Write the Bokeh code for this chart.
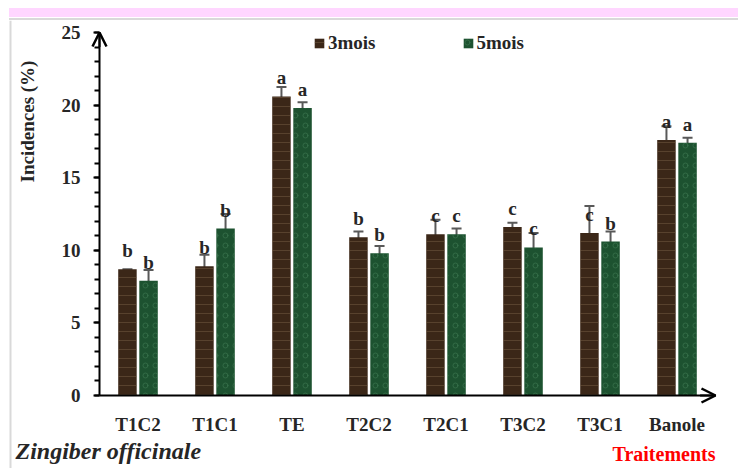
import numpy as np
from bokeh.plotting import figure
from bokeh.models import (ColumnDataSource, Whisker, TeeHead, LabelSet, Label, Arrow, OpenHead,
                          SingleIntervalTicker, FixedTicker, Legend, LegendItem, Div, Range1d, Span)
from bokeh.layouts import column
from bokeh.core.properties import value
from bokeh.embed import file_html
from bokeh.resources import INLINE

# ---- data ----
categories = ["T1C2", "T1C1", "TE", "T2C2", "T2C1", "T3C2", "T3C1", "Banole"]
mois3 = [8.7, 8.9, 20.6, 10.9, 11.1, 11.6, 11.2, 17.6]
mois5 = [7.9, 11.5, 19.8, 9.8, 11.1, 10.2, 10.6, 17.4]
mois3_upper = [8.7, 9.7, 21.25, 11.3, 12.1, 11.9, 13.05, 18.55]
mois3_lower = [7.95, 8.1, 20.1, 9.9, 10.8, 9.75, 10.1, 15.85]
mois5_upper = [8.65, 12.5, 20.2, 10.3, 11.5, 11.2, 11.3, 17.75]
mois5_lower = [7.15, 9.95, 19.4, 9.3, 10.85, 9.35, 9.85, 17.1]
letters3 = ["b", "b", "a", "b", "c", "c", "c", "a"]
letters5 = ["b", "b", "a", "b", "c", "c", "b", "a"]
series_names = ["3mois", "5mois"]
y_tick_interval = 5
y_max = 25

FONT = "Liberation Serif"
TXT = "#262626"
ERR = "#595959"

# ---- layout geometry (pixels) ----
W, H_TOP, H_PLOT = 738, 20, 448
ORIGIN_X = 99          # x of the y-axis on the page
ORIGIN_Y = 395 - H_TOP # y of the x-axis inside the plot
PX_X = 77.0            # pixels per category
PX_Y = 14.52           # pixels per unit

n = len(categories)
centers = np.arange(n) + 0.5
dodge = 0.137
bw = 0.24

def ux(px):  # page x -> data x
    return (px - ORIGIN_X) / PX_X

def uy(py):  # page y -> data y
    return (ORIGIN_Y - (py - H_TOP)) / PX_Y

src3 = ColumnDataSource(dict(x=centers - dodge, top=mois3, upper=mois3_upper,
                             lower=mois3_lower, letter=letters3))
src5 = ColumnDataSource(dict(x=centers + dodge, top=mois5, upper=mois5_upper,
                             lower=mois5_lower, letter=letters5))

p = figure(width=W, height=H_PLOT,
           x_range=Range1d(ux(0), ux(W)), y_range=Range1d(uy(H_TOP + H_PLOT), uy(H_TOP)),
           output_backend="svg", toolbar_location=None,
           min_border_left=0, min_border_right=0, min_border_top=0, min_border_bottom=0)
p.outline_line_color = None
p.xgrid.visible = False
p.ygrid.visible = False
p.background_fill_color = "white"
p.border_fill_color = "white"

# left grey border of the chart area
p.add_layout(Span(location=ux(10), dimension="height", line_color="#D9D9D9", line_width=2))

r3 = p.vbar(x="x", top="top", width=bw, source=src3, fill_color="#3b2718", line_color=None,
            hatch_pattern="horizontal_line", hatch_color="#7d6349", hatch_alpha=0.45,
            hatch_scale=9, hatch_weight=1)
r5 = p.vbar(x="x", top="top", width=bw, source=src5, fill_color="#1d5230", line_color=None,
            hatch_pattern="ring", hatch_color="#5e9e72", hatch_alpha=0.3,
            hatch_scale=10, hatch_weight=1)

for src in (src3, src5):
    w = Whisker(base="x", upper="upper", lower="lower", source=src,
                line_color=ERR, line_width=2,
                upper_head=TeeHead(size=10, line_color=ERR, line_width=2),
                lower_head=TeeHead(size=10, line_color=ERR, line_width=2))
    p.add_layout(w)
    ls = LabelSet(x="x", y="top", text="letter", source=src, y_offset=12,
                  text_align="center", text_baseline="alphabetic",
                  text_font=value(FONT), text_font_size="19px", text_font_style="bold",
                  text_color=TXT)
    p.add_layout(ls)

# axes drawn inside the frame at the data origin
yax = p.yaxis[0]
yax.fixed_location = 0
yax.bounds = (0, y_max)
yax.ticker = SingleIntervalTicker(interval=y_tick_interval, num_minor_ticks=5)
yax.axis_line_width = 2
yax.axis_line_color = "black"
yax.major_tick_out = 6
yax.major_tick_in = 0
yax.minor_tick_out = 5
yax.minor_tick_in = 0
yax.major_tick_line_width = 2
yax.minor_tick_line_width = 2
yax.major_label_standoff = 13
yax.major_label_text_font = FONT
yax.major_label_text_font_size = "19px"
yax.major_label_text_font_style = "bold"
yax.major_label_text_color = TXT

xax = p.xaxis[0]
xax.fixed_location = 0
xax.bounds = (0, n)
xax.ticker = FixedTicker(ticks=list(centers))
xax.major_label_overrides = {float(c): lab for c, lab in zip(centers, categories)}
xax.major_tick_line_color = None
xax.minor_tick_line_color = None
xax.major_tick_out = 0
xax.major_tick_in = 0
xax.axis_line_width = 2
xax.axis_line_color = "black"
xax.major_label_standoff = 18
xax.major_label_text_font = FONT
xax.major_label_text_font_size = "19px"
xax.major_label_text_font_style = "bold"
xax.major_label_text_color = TXT

# axis arrows
p.add_layout(Arrow(end=OpenHead(size=14, line_width=2.5, line_color="black"),
                   x_start=0, y_start=y_max - 1, x_end=0, y_end=y_max,
                   line_width=2, line_color="black"))
p.add_layout(Arrow(end=OpenHead(size=14, line_width=2.5, line_color="black"),
                   x_start=n - 0.2, y_start=0, x_end=n, y_end=0,
                   line_width=2, line_color="black"))

# legend
legend = Legend(items=[LegendItem(label=series_names[0], renderers=[r3]),
                       LegendItem(label=series_names[1], renderers=[r5])],
                orientation="horizontal", location=(313, 414),
                label_text_font=FONT, label_text_font_size="19px", label_text_font_style="bold",
                label_text_color=TXT, glyph_width=12, glyph_height=12, label_standoff=3,
                spacing=86, padding=0, margin=0, border_line_color=None,
                background_fill_alpha=0, label_height=12)
p.add_layout(legend)

# texts
p.add_layout(Label(x=ux(27), y=uy(121), text="Incidences (%)", angle=np.pi / 2,
                   text_align="center", text_baseline="middle", text_font=FONT,
                   text_font_size="19px", text_font_style="bold", text_color=TXT))
p.add_layout(Label(x=ux(15), y=uy(450), text="Zingiber officinale", text_align="left",
                   text_baseline="alphabetic", text_font=FONT, text_font_size="24px",
                   text_font_style="bold italic", text_color=TXT))
p.add_layout(Label(x=n, y=uy(453), text="Traitements", text_align="right",
                   text_baseline="alphabetic", text_font=FONT, text_font_size="20px",
                   text_font_style="bold", text_color="#FF0000"))

top = Div(text="", width=W, height=H_TOP, margin=0,
          styles={"background-image": "linear-gradient(to bottom, #FFD6FF 0px, #FFD6FF 9px, #ffffff 9px, #ffffff 10px, #D9D9D9 10px, #D9D9D9 12px)",
                  "background-repeat": "no-repeat",
                  "background-position": "9px 8px",
                  "background-size": "729px 12px"})
layout = column(top, p, spacing=0)

open("out.html", "w").write(file_html(layout, INLINE))
